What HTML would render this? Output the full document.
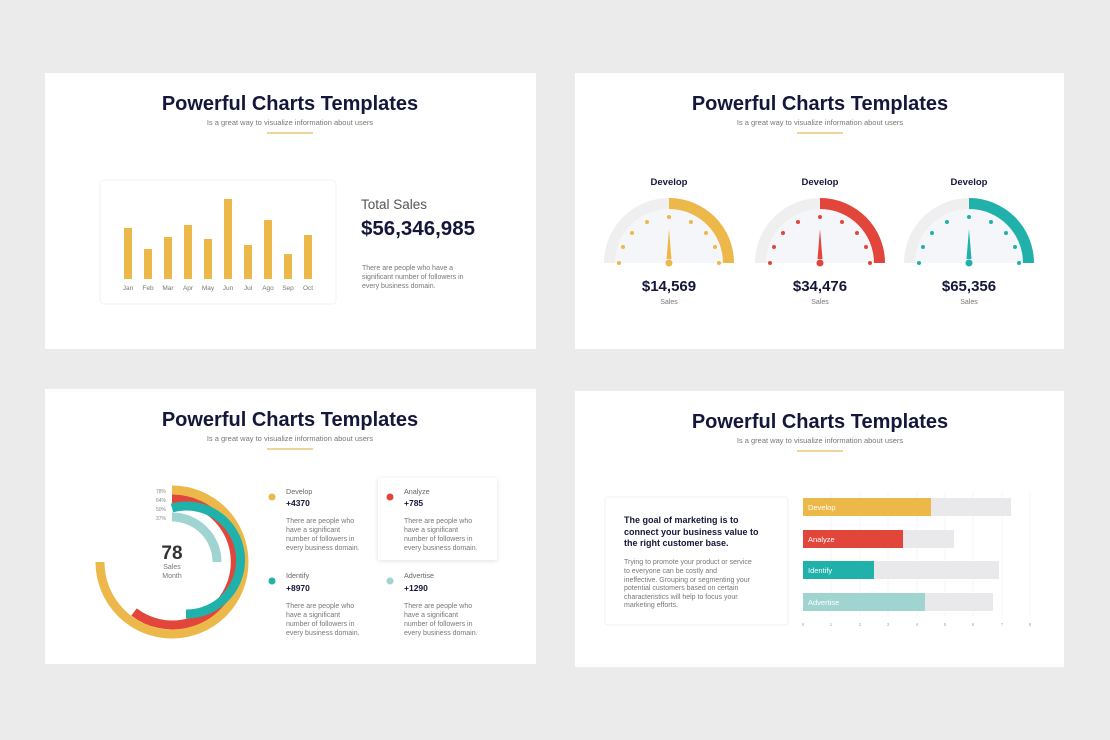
<!DOCTYPE html>
<html><head><meta charset="utf-8"><style>
html,body{margin:0;padding:0;background:#ebebeb;}
svg{display:block;font-family:"Liberation Sans",sans-serif;}
</style></head><body>
<svg width="1110" height="740" viewBox="0 0 1110 740" xmlns="http://www.w3.org/2000/svg">
<defs>
<filter id="sh" x="-20%" y="-20%" width="140%" height="140%"><feDropShadow dx="0" dy="1" stdDeviation="2.5" flood-color="#000" flood-opacity="0.12"/></filter>
</defs>
<rect width="1110" height="740" fill="#ebebeb"/>
<rect x="45" y="73" width="491" height="276" fill="#fff"/>
<rect x="575" y="73" width="489" height="276" fill="#fff"/>
<rect x="45" y="389" width="491" height="275" fill="#fff"/>
<rect x="575" y="391" width="489" height="276" fill="#fff"/>

<g fill="#14163a" font-weight="bold" font-size="20" text-anchor="middle">
<text x="290" y="110">Powerful Charts Templates</text>
<text x="820" y="110">Powerful Charts Templates</text>
<text x="290" y="426">Powerful Charts Templates</text>
<text x="820" y="428">Powerful Charts Templates</text>
</g>
<g fill="#777" font-size="7.5" text-anchor="middle">
<text x="290" y="125">Is a great way to visualize information about users</text>
<text x="820" y="125">Is a great way to visualize information about users</text>
<text x="290" y="441">Is a great way to visualize information about users</text>
<text x="820" y="443">Is a great way to visualize information about users</text>
</g>
<g stroke="#d9a93a" stroke-width="1">
<line x1="267" y1="133" x2="313" y2="133"/><line x1="797" y1="133" x2="843" y2="133"/>
<line x1="267" y1="449" x2="313" y2="449"/><line x1="797" y1="451" x2="843" y2="451"/>
</g>

<rect x="100" y="180" width="236" height="124" rx="4" fill="#fff" stroke="#f2f2f2"/>
<g fill="#edb84a">
<rect x="124" y="228" width="8" height="51"/>
<rect x="144" y="249" width="8" height="30"/>
<rect x="164" y="237" width="8" height="42"/>
<rect x="184" y="225" width="8" height="54"/>
<rect x="204" y="239" width="8" height="40"/>
<rect x="224" y="199" width="8" height="80"/>
<rect x="244" y="245" width="8" height="34"/>
<rect x="264" y="220" width="8" height="59"/>
<rect x="284" y="254" width="8" height="25"/>
<rect x="304" y="235" width="8" height="44"/>
</g>
<g fill="#777" font-size="6.5" text-anchor="middle">
<text x="128" y="290">Jan</text><text x="148" y="290">Feb</text><text x="168" y="290">Mar</text><text x="188" y="290">Apr</text><text x="208" y="290">May</text><text x="228" y="290">Jun</text><text x="248" y="290">Jul</text><text x="268" y="290">Ago</text><text x="288" y="290">Sep</text><text x="308" y="290">Oct</text>
</g>
<text x="361" y="209" font-size="13.5" fill="#555">Total Sales</text>
<text x="361" y="235" font-size="20.5" font-weight="bold" fill="#14163a">$56,346,985</text>
<g fill="#777" font-size="7"><text x="362" y="270">There are people who have a</text><text x="362" y="279">significant number of followers in</text><text x="362" y="288">every business domain.</text></g>

<g>
<g transform="translate(669,263)">
<path d="M-65,0 A65,65 0 0 1 65,0 Z" fill="#efefef"/>
<path d="M-54,0 A54,54 0 0 1 54,0 Z" fill="#f5f6fa"/>
<path d="M0,-65 A65,65 0 0 1 65,0 L54,0 A54,54 0 0 0 0,-54 Z" fill="#edb84a"/>
<g fill="#edb84a"><circle cx="-50" cy="0" r="2"/><circle cx="-46" cy="-16" r="2"/><circle cx="-37" cy="-30" r="2"/><circle cx="-22" cy="-41" r="2"/><circle cx="0" cy="-46" r="2"/><circle cx="22" cy="-41" r="2"/><circle cx="37" cy="-30" r="2"/><circle cx="46" cy="-16" r="2"/><circle cx="50" cy="0" r="2"/>
<path d="M-2.5,-4 L0,-34 L2.5,-4 Z"/><circle cx="0" cy="0" r="3.5"/></g>
</g>
<g transform="translate(820,263)">
<path d="M-65,0 A65,65 0 0 1 65,0 Z" fill="#efefef"/>
<path d="M-54,0 A54,54 0 0 1 54,0 Z" fill="#f5f6fa"/>
<path d="M0,-65 A65,65 0 0 1 65,0 L54,0 A54,54 0 0 0 0,-54 Z" fill="#e2463a"/>
<g fill="#e2463a"><circle cx="-50" cy="0" r="2"/><circle cx="-46" cy="-16" r="2"/><circle cx="-37" cy="-30" r="2"/><circle cx="-22" cy="-41" r="2"/><circle cx="0" cy="-46" r="2"/><circle cx="22" cy="-41" r="2"/><circle cx="37" cy="-30" r="2"/><circle cx="46" cy="-16" r="2"/><circle cx="50" cy="0" r="2"/>
<path d="M-2.5,-4 L0,-34 L2.5,-4 Z"/><circle cx="0" cy="0" r="3.5"/></g>
</g>
<g transform="translate(969,263)">
<path d="M-65,0 A65,65 0 0 1 65,0 Z" fill="#efefef"/>
<path d="M-54,0 A54,54 0 0 1 54,0 Z" fill="#f5f6fa"/>
<path d="M0,-65 A65,65 0 0 1 65,0 L54,0 A54,54 0 0 0 0,-54 Z" fill="#1fb1aa"/>
<g fill="#1fb1aa"><circle cx="-50" cy="0" r="2"/><circle cx="-46" cy="-16" r="2"/><circle cx="-37" cy="-30" r="2"/><circle cx="-22" cy="-41" r="2"/><circle cx="0" cy="-46" r="2"/><circle cx="22" cy="-41" r="2"/><circle cx="37" cy="-30" r="2"/><circle cx="46" cy="-16" r="2"/><circle cx="50" cy="0" r="2"/>
<path d="M-2.5,-4 L0,-34 L2.5,-4 Z"/><circle cx="0" cy="0" r="3.5"/></g>
</g>
</g>
<g fill="#14163a" font-weight="bold" text-anchor="middle">
<text x="669" y="185" font-size="9.5">Develop</text><text x="820" y="185" font-size="9.5">Develop</text><text x="969" y="185" font-size="9.5">Develop</text>
<text x="669" y="291" font-size="15">$14,569</text><text x="820" y="291" font-size="15">$34,476</text><text x="969" y="291" font-size="15">$65,356</text>
</g>
<g fill="#777" font-size="7" text-anchor="middle"><text x="669" y="304">Sales</text><text x="820" y="304">Sales</text><text x="969" y="304">Sales</text></g>

<g fill="none" stroke-width="9">
<path d="M172,490 A72,72 0 1 1 100,562" stroke="#edb84a"/>
<path d="M172,499 A63,63 0 1 1 134,612" stroke="#e2463a"/>
<path d="M172,508 A54,54 0 1 1 186,614" stroke="#1fb1aa"/>
<path d="M172,517 A45,45 0 0 1 217,562" stroke="#9fd4d0"/>
</g>
<g fill="#888" font-size="5" text-anchor="end"><text x="166" y="493">78%</text><text x="166" y="502">64%</text><text x="166" y="511">50%</text><text x="166" y="520">37%</text></g>
<text x="172" y="559" font-size="19" font-weight="bold" fill="#333" text-anchor="middle">78</text>
<g fill="#777" font-size="7" text-anchor="middle"><text x="172" y="569">Sales</text><text x="172" y="578">Month</text></g>

<rect x="378" y="478" width="119" height="82" rx="2" fill="#fff" filter="url(#sh)"/>
<circle cx="272" cy="497" r="3.5" fill="#edb84a"/>
<circle cx="390" cy="497" r="3.5" fill="#e2463a"/>
<circle cx="272" cy="581" r="3.5" fill="#1fb1aa"/>
<circle cx="390" cy="581" r="3.5" fill="#9fd4d0"/>
<g fill="#666" font-size="7.2">
<text x="286" y="494">Develop</text><text x="404" y="494">Analyze</text><text x="286" y="578">Identify</text><text x="404" y="578">Advertise</text>
</g>
<g fill="#14163a" font-size="8.5" font-weight="bold">
<text x="286" y="506">+4370</text><text x="404" y="506">+785</text><text x="286" y="591">+8970</text><text x="404" y="591">+1290</text>
</g>
<g fill="#777" font-size="7">
<text x="286" y="523">There are people who</text><text x="286" y="532">have a significant</text><text x="286" y="541">number of followers in</text><text x="286" y="550">every business domain.</text>
<text x="404" y="523">There are people who</text><text x="404" y="532">have a significant</text><text x="404" y="541">number of followers in</text><text x="404" y="550">every business domain.</text>
<text x="286" y="608">There are people who</text><text x="286" y="617">have a significant</text><text x="286" y="626">number of followers in</text><text x="286" y="635">every business domain.</text>
<text x="404" y="608">There are people who</text><text x="404" y="617">have a significant</text><text x="404" y="626">number of followers in</text><text x="404" y="635">every business domain.</text>
</g>

<rect x="605" y="497" width="183" height="128" rx="3" fill="#fff" stroke="#f0f0f0"/>
<g fill="#14163a" font-size="9" font-weight="bold">
<text x="624" y="523">The goal of marketing is to</text><text x="624" y="535">connect your business value to</text><text x="624" y="546">the right customer base.</text>
</g>
<g fill="#777" font-size="7">
<text x="624" y="564">Trying to promote your product or service</text><text x="624" y="573">to everyone can be costly and</text><text x="624" y="582">ineffective. Grouping or segmenting your</text><text x="624" y="590">potential customers based on certain</text><text x="624" y="599">characteristics will help to focus your</text><text x="624" y="607">marketing efforts.</text>
</g>
<g stroke="#f3f3f3" stroke-width="0.7">
<line x1="831" y1="492" x2="831" y2="616"/><line x1="860" y1="492" x2="860" y2="616"/><line x1="888" y1="492" x2="888" y2="616"/><line x1="917" y1="492" x2="917" y2="616"/><line x1="945" y1="492" x2="945" y2="616"/><line x1="973" y1="492" x2="973" y2="616"/><line x1="1002" y1="492" x2="1002" y2="616"/><line x1="1030" y1="492" x2="1030" y2="616"/>
</g>
<rect x="803" y="498" width="208" height="18" fill="#e9e9ec"/><rect x="803" y="498" width="128" height="18" fill="#edb84a"/>
<rect x="803" y="530" width="151" height="18" fill="#e9e9ec"/><rect x="803" y="530" width="100" height="18" fill="#e2463a"/>
<rect x="803" y="561" width="196" height="18" fill="#e9e9ec"/><rect x="803" y="561" width="71" height="18" fill="#1fb1aa"/>
<rect x="803" y="593" width="190" height="18" fill="#e9e9ec"/><rect x="803" y="593" width="122" height="18" fill="#9fd4d0"/>
<g fill="#fff" font-size="7.5">
<text x="808" y="510">Develop</text><text x="808" y="542">Analyze</text><text x="808" y="573">Identify</text><text x="808" y="605">Advertise</text>
</g>
<g fill="#aaa" font-size="4.5" text-anchor="middle">
<text x="803" y="626">0</text><text x="831" y="626">1</text><text x="860" y="626">2</text><text x="888" y="626">3</text><text x="917" y="626">4</text><text x="945" y="626">5</text><text x="973" y="626">6</text><text x="1002" y="626">7</text><text x="1030" y="626">8</text>
</g>
</svg>
</body></html>
